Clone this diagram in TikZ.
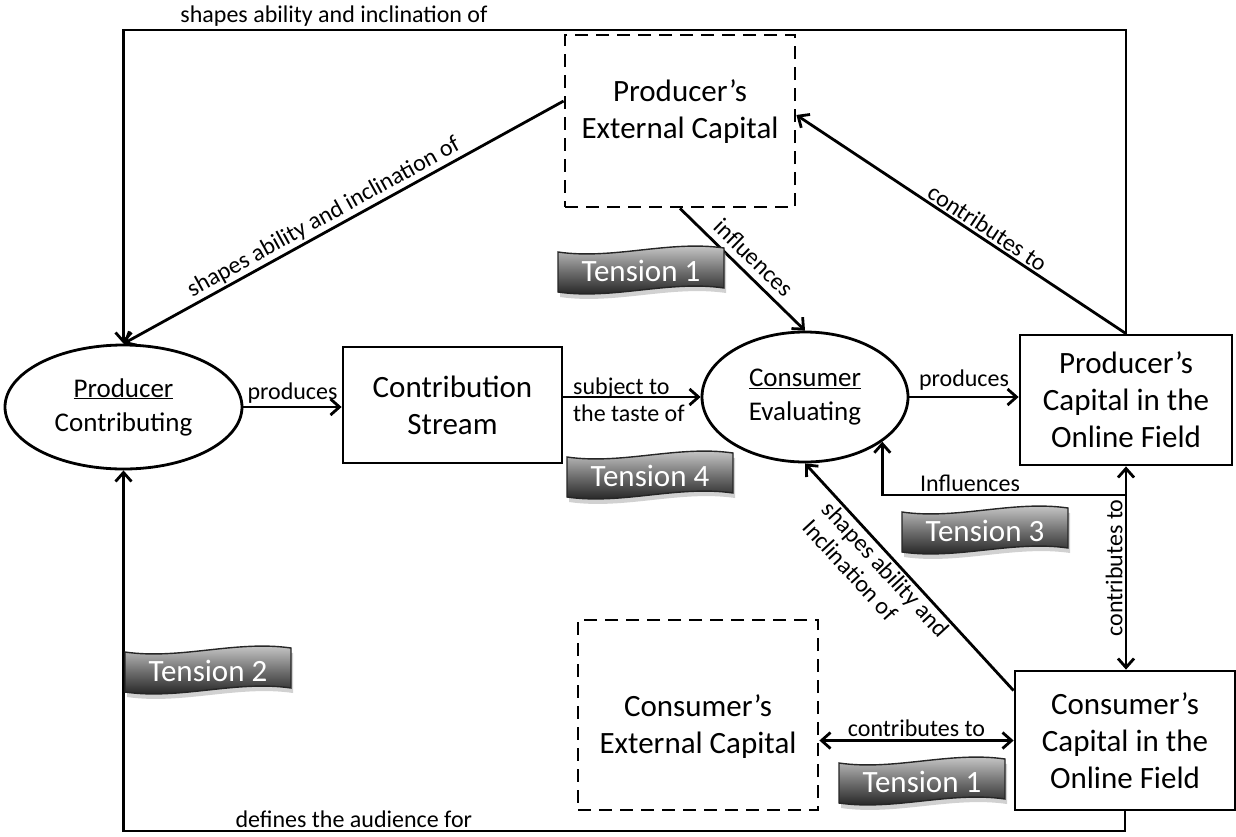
\documentclass[tikz,border=0pt]{standalone}
\usepackage{fontspec}
\setmainfont{Carlito}
\usetikzlibrary{arrows.meta,shapes.geometric,calc}
\newcommand\fbig{\fontsize{31}{37}\selectfont}
\newcommand\fell{\fontsize{27}{34}\selectfont}
\newcommand\flab{\fontsize{24}{27}\selectfont}
\newcommand\tensionflag[3]{%
  \begin{scope}[shift={(#2)}]
    \fill[black!40, opacity=0.45, shift={(2,5)}]
      (-83,-19) .. controls (-28,-11) and (28,-31) .. (83,-23) -- (83,17)
      .. controls (28,9) and (-28,29) .. (-83,21) -- cycle;
    \draw[line width=1.4pt, black!85, top color=black!15, bottom color=black!92, middle color=black!55]
      (-83,-19) .. controls (-28,-11) and (28,-31) .. (83,-23) -- (83,17)
      .. controls (28,9) and (-28,29) .. (-83,21) -- cycle;
    \node[text=white, font=\fbig, inner sep=0pt] (#1) at (0,0) {#3};
  \end{scope}}
\begin{document}
\begin{tikzpicture}[x=1pt,y=-1pt,
  box/.style={draw, line width=2.8pt, align=center, font=\fbig, inner sep=0pt},
  dbox/.style={box, dash pattern=on 13pt off 8pt},
  txt/.style={align=center, font=\fbig, inner sep=0pt},
  ell/.style={draw, ellipse, line width=2.8pt, align=center, font=\fell, inner sep=0pt},
  lab/.style={font=\flab, inner sep=2pt},
  arr/.style={-{Straight Barb[length=9pt,width=16pt]}, line width=2.8pt},
  darr/.style={{Straight Barb[length=9pt,width=16pt]}-{Straight Barb[length=9pt,width=16pt]}, line width=2.8pt}]
\useasboundingbox (0,0) rectangle (1236,836);

% nodes
\node[box, minimum width=212pt, minimum height=130pt] (pcap) at (1126,400) {Producer’s\\Capital in the\\Online Field};
\node[box, minimum width=220pt, minimum height=139pt] (ccap) at (1125,740.5) {Consumer’s\\Capital in the\\Online Field};
\node[box, minimum width=219pt, minimum height=116pt] (stream) at (452.5,405) {Contribution\\Stream};
\node[dbox, minimum width=230pt, minimum height=172pt] (pext) at (680,121) {};
\node[txt] (pexttxt) at (680,112) {Producer’s\\External Capital};
\node[dbox, minimum width=240pt, minimum height=190pt] (cext) at (698,715) {};
\node[txt] (cexttxt) at (698,727) {Consumer’s\\External Capital};
\node[ell, minimum width=237pt, minimum height=124pt] (prod) at (123.5,407) {\underline{Producer}\\Contributing};
\node[ell, minimum width=206pt, minimum height=130pt] (cons) at (805,397) {\underline{Consumer}\\Evaluating};

\coordinate (tr) at (1126,30);
\coordinate (tl) at (123.5,30);
\coordinate (br) at (1125,831);
\coordinate (bl) at (123.5,831);
\coordinate (junc) at (1126,495);

% connectors
\draw[arr] (pcap.north) -- (tr) -- node[lab, above, pos=0.79] {shapes ability and inclination of} (tl) -- (prod.north);
\draw[arr] (ccap.south) -- (br) -- node[lab, above, pos=0.77] {defines the audience for} (bl) -- (prod.south);
\draw[arr] (prod.east) -- node[lab, above] {produces} (prod.east -| stream.west);
\draw[arr] (stream.east |- cons.west) -- (cons.west);
\node[lab, anchor=west, align=left] (stlab) at (571,400) {subject to\\the taste of};
\draw[arr] (cons.east) -- node[lab, above, yshift=3pt] {produces} (cons.east -| pcap.west);
\draw[arr] (pext.south) -- node[lab, above=5pt, sloped, pos=0.5] {influences} (cons.north);
\draw[arr] (pcap.north) -- node[lab, above, sloped, pos=0.44] {contributes to} ($(pext.east)+(0,-6)$);
\draw[arr] ($(pext.west)+(0,-20)$) -- node[lab, above, sloped, pos=0.53] {shapes ability and inclination of} (prod.north);
\draw[darr] (pcap.south |- ccap.north) -- node[lab, rotate=90, anchor=south] {contributes to} (pcap.south);
\draw[arr] (junc) -| node[lab, above, pos=0.32] {Influences} (cons.-30.7);
\draw[arr] ($(ccap.north west)+(0,21)$) -- node[lab, below, sloped, align=left, pos=0.57] {shapes ability and\\Inclination of} (cons.south);
\draw[darr] (ccap.west -| cext.east) -- node[lab, above] {contributes to} (ccap.west);

% tension flags
\tensionflag{t1a}{641,271}{Tension 1}
\tensionflag{t4}{650,476}{Tension 4}
\tensionflag{t3}{985,531}{Tension 3}
\tensionflag{t2}{208,671}{Tension 2}
\tensionflag{t1b}{922,782}{Tension 1}
\end{tikzpicture}
\end{document}
